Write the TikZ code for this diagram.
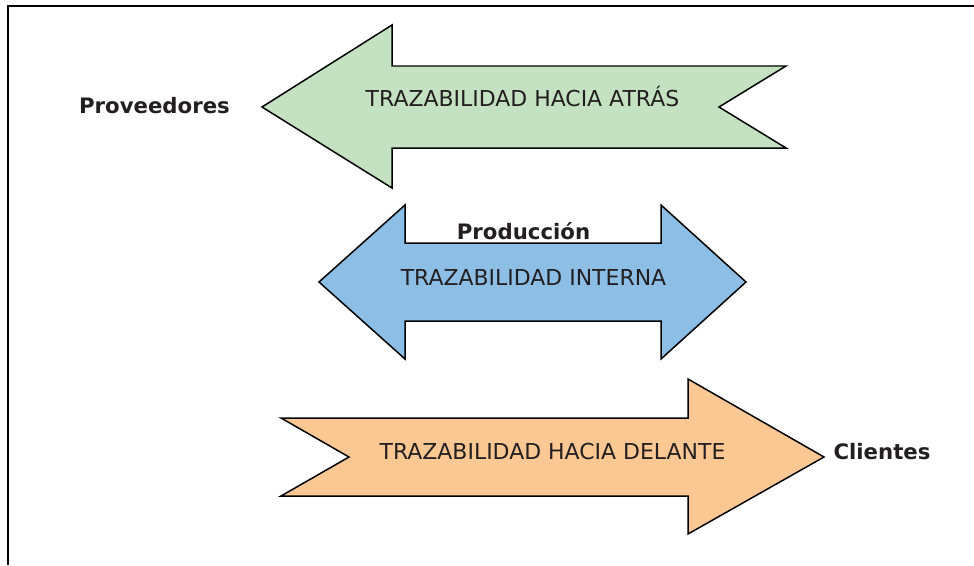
\documentclass[tikz,border=0pt]{standalone}
\usepackage{fontspec}
\setmainfont{DejaVu Sans}
\usepackage{tikz}
\definecolor{atrasgreen}{RGB}{196,226,193}
\definecolor{internablue}{RGB}{141,190,230}
\definecolor{delanteorange}{RGB}{251,200,148}
\definecolor{textgray}{RGB}{35,31,32}
\tikzset{
    flecha/.style={draw=black, line width=0.85pt, line join=miter},
    tracelabel/.style={anchor=base, inner sep=0pt, text=textgray, font=\fontsize{12.5}{14}\selectfont},
    partylabel/.style={anchor=base, inner sep=0pt, text=textgray, font=\bfseries\fontsize{12.1}{14}\selectfont}
}

\begin{document}
\begin{tikzpicture}[x=0.02cm, y=-0.02cm]
    \useasboundingbox (0,0) rectangle (974,565);
    % frame
    \draw[line width=1.1pt] (8,565) -- (8,6) -- (974,6);

    % hacia atras
    \draw[flecha, fill=atrasgreen] (262,107) -- (392,25) -- (392,66) -- (786,66) -- (719,107)
        -- (786,148) -- (392,148) -- (392,188) -- cycle;
    \node[tracelabel] (atras) at (522.5,106) {TRAZABILIDAD HACIA ATRÁS};
    \node[partylabel] (proveedores) at (154.5,113) {Proveedores};

    % interna
    \draw[flecha, fill=internablue] (319,282) -- (405,205) -- (405,243) -- (661,243) -- (661,205)
        -- (746,282) -- (661,359) -- (661,321) -- (405,321) -- (405,359) -- cycle;
    \node[tracelabel] (interna) at (533.5,285) {TRAZABILIDAD INTERNA};
    \node[partylabel] (produccion) at (523.5,239) {Producción};

    % hacia delante
    \draw[flecha, fill=delanteorange] (281,418) -- (688,418) -- (688,379) -- (824,457) -- (688,534)
        -- (688,496) -- (281,496) -- (349,457) -- cycle;
    \node[tracelabel] (delante) at (552.5,459) {TRAZABILIDAD HACIA DELANTE};
    \node[partylabel] (clientes) at (882,459) {Clientes};
\end{tikzpicture}
\end{document}
